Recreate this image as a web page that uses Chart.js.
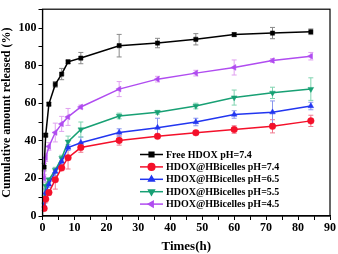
<!DOCTYPE html>
<html><head><meta charset="utf-8">
<script src="https://cdn.jsdelivr.net/npm/chart.js@4.4.0/dist/chart.umd.min.js"></script>
<style>html,body{margin:0;padding:0;background:#fff}#wrap{width:338px;height:254px}</style>
</head><body><div id="wrap"><canvas id="c" width="338" height="254"></canvas></div>
<script>
const times = [0.5, 1, 2, 4, 6, 8, 12, 24, 36, 48, 60, 72, 84];
const seriesLabels = ["Free HDOX pH=7.4", "HDOX@HBicelles pH=7.4", "HDOX@HBicelles pH=6.5", "HDOX@HBicelles pH=5.5", "HDOX@HBicelles pH=4.5"];
const freeHDOX = [26, 43, 59.5, 70, 75.5, 82, 84, 90.6, 92, 94, 96.5, 97.3, 98];
const freeHDOXErr = [2, 1, 1, 1.5, 3, 1, 3, 6, 2.5, 3, 1, 3, 1.5];
const bic74 = [4, 9, 12.5, 19.3, 25.6, 31, 36.4, 40.2, 42.4, 44.3, 46, 47.7, 50.6];
const bic74Err = [1, 2, 1.5, 5, 1.5, 6, 2.5, 2.5, 1, 1, 2, 3.5, 3];
const bic65 = [5.6, 12.5, 16.8, 23.6, 29, 36.4, 39, 44.4, 47, 50, 54, 55.2, 58.5];
const bic65Err = [1, 2, 1.5, 2, 1.5, 1.5, 3, 2, 5, 2, 2, 6, 2];
const bic55 = [9, 16, 19.3, 24.4, 30.8, 39.5, 46, 53.2, 55.2, 58.5, 63, 65.5, 67.5];
const bic55Err = [2, 2, 1, 1.5, 1.5, 3, 4, 1.5, 1, 1.5, 4, 3, 6];
const bic45 = [20, 31, 37, 44.4, 49, 52.7, 58, 67.5, 72.8, 76, 79, 82.7, 85];
const bic45Err = [2, 2, 2, 5, 4, 4.5, 1, 4, 1.5, 1.5, 4, 1, 2];

const values = [freeHDOX, bic74, bic65, bic55, bic45];
const errors = [freeHDOXErr, bic74Err, bic65Err, bic55Err, bic45Err];
const colors = ["#000000", "#f4102a", "#2236f0", "#18a074", "#b04cf0"];
const errColors = ["#8a8a8a", "#f07a90", "#8a96ee", "#80d4b0", "#e0a0f0"];
const shapes = ["rect", "circle", "triangle", "triangle", "triangle"];
const rots = [0, 0, 0, 180, 270];
const FONT = "'Liberation Serif', 'Times New Roman', serif";

const datasets = values.map((v, i) => ({
  label: seriesLabels[i],
  data: times.map((t, j) => ({x: t, y: v[j]})),
  borderColor: colors[i], backgroundColor: colors[i],
  borderWidth: 1.5, pointStyle: shapes[i], rotation: rots[i],
  pointRadius: i === 0 ? 3 : 3.3, pointBorderWidth: 0.5, tension: 0,
  errs: errors[i], errColor: errColors[i]
}));

const errPlugin = {
  id: 'errbars',
  beforeDatasetsDraw(chart) {
    const ctx = chart.ctx, ys = chart.scales.y;
    chart.data.datasets.forEach((ds, i) => {
      const meta = chart.getDatasetMeta(i);
      ctx.save(); ctx.strokeStyle = ds.errColor; ctx.lineWidth = 1;
      meta.data.forEach((p, j) => {
        const e = ds.errs[j]; const v = ds.data[j].y;
        const y1 = ys.getPixelForValue(v + e), y2 = ys.getPixelForValue(v - e);
        ctx.beginPath();
        ctx.moveTo(p.x, y1); ctx.lineTo(p.x, y2);
        ctx.moveTo(p.x - 2.5, y1); ctx.lineTo(p.x + 2.5, y1);
        ctx.moveTo(p.x - 2.5, y2); ctx.lineTo(p.x + 2.5, y2);
        ctx.stroke();
      });
      ctx.restore();
    });
  }
};

const legendBoxPlugin = {
  id: 'legendbox',
  afterDraw(chart) {
    const ctx = chart.ctx;
    ctx.save();
    const x0 = 140, x1 = 163, tx = 166, y0 = 154.5, dy = 12.4;
    ctx.font = "bold 10px " + FONT;
    ctx.textBaseline = 'middle'; ctx.textAlign = 'left';
    chart.data.datasets.forEach((ds, i) => {
      const y = y0 + i * dy;
      ctx.strokeStyle = ds.borderColor; ctx.lineWidth = 1.5;
      ctx.beginPath(); ctx.moveTo(x0, y); ctx.lineTo(x1, y); ctx.stroke();
      ctx.fillStyle = ds.borderColor;
      Chart.helpers.drawPoint(ctx, {pointStyle: ds.pointStyle, rotation: ds.rotation, radius: 3.3, borderWidth: 0.5}, (x0 + x1) / 2, y);
      ctx.fillStyle = '#000';
      ctx.fillText(ds.label, tx, y + 0.5);
    });
    const a = chart.chartArea;
    ctx.strokeStyle = '#000'; ctx.lineWidth = 1.2;
    ctx.strokeRect(a.left, a.top, a.right - a.left, a.bottom - a.top);
    ctx.restore();
  }
};

new Chart(document.getElementById('c'), {
  type: 'line',
  data: {datasets},
  options: {
    responsive: false, animation: false, devicePixelRatio: 1,
    layout: {padding: {top: 2, right: 8, left: 0, bottom: 0}},
    plugins: {legend: {display: false}, tooltip: {enabled: false}},
    scales: {
      x: {
        type: 'linear', min: 0, max: 90,
        afterFit: s => { s.height = 38; },
        grid: {display: true, drawOnChartArea: false, drawTicks: true, tickLength: 4, color: '#000', tickWidth: 1},
        border: {color: '#000', width: 1.2},
        ticks: {stepSize: 5, color: '#000', padding: 1, maxRotation: 0, autoSkip: false,
          font: {family: FONT, size: 12, weight: 'bold'},
          callback: v => (v % 10 === 0 ? v : '')},
        title: {display: true, text: 'Times(h)', color: '#000', padding: {top: 0, bottom: 0},
          font: {family: FONT, size: 13, weight: 'bold'}}
      },
      y: {
        min: 0, max: 110,
        afterFit: s => { s.width = 42.5; },
        grid: {display: true, drawOnChartArea: false, drawTicks: true, tickLength: 4, color: '#000', tickWidth: 1},
        border: {color: '#000', width: 1.2},
        ticks: {stepSize: 10, color: '#000', padding: 2, autoSkip: false,
          font: {family: FONT, size: 12, weight: 'bold'},
          callback: v => (v % 20 === 0 && v <= 100 ? v : '')},
        title: {display: true, text: 'Cumulative amount released (%)', color: '#000', padding: {top: 0, bottom: 0},
          font: {family: FONT, size: 12, weight: 'bold'}}
      }
    }
  },
  plugins: [errPlugin, legendBoxPlugin]
});
</script></body></html>
